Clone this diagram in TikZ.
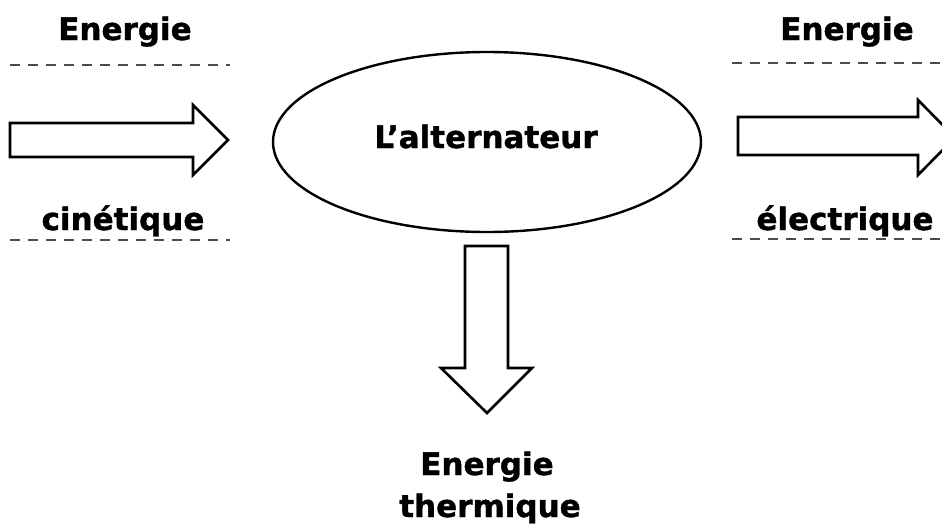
\documentclass[tikz,border=0pt]{standalone}
\usepackage{fontspec}
\setmainfont{DejaVu Sans}[BoldFeatures={FakeBold=1.2}]
\begin{document}
\begin{tikzpicture}[x=1pt,y=-1pt,
  lbl/.style={font=\bfseries\fontsize{31}{42}\selectfont, anchor=base, inner sep=0pt},
  blockarrow/.style={draw=black, line width=2.6pt, fill=white, line join=miter},
  sep/.style={draw=black!70, line width=1.6pt, dash pattern=on 10pt off 8pt},
  oval/.style={draw=black, line width=2.4pt}]
\useasboundingbox (0,0) rectangle (942,525);
% left
\node[lbl] (e1) at (125,40) {Energie};
\node[lbl] (c1) at (123,230) {cinétique};
\draw[sep] (10,65) -- (230,65);
\draw[sep] (10,240) -- (230,240);
\draw[blockarrow] (10,123) -- (193,123) -- (193,105) -- (228,140) -- (193,175) -- (193,157) -- (10,157) -- cycle;
% ellipse
\draw[oval] (487,142) ellipse [x radius=214, y radius=90];
\node[lbl] (alt) at (486,148) {L’alternateur};
% right
\node[lbl] (e2) at (847,40) {Energie};
\node[lbl] (c2) at (845,230) {électrique};
\draw[sep] (732,63) -- (942,63);
\draw[sep] (732,239) -- (942,239);
\draw[blockarrow] (738,117) -- (918,117) -- (918,100) -- (955,137.5) -- (918,175) -- (918,155) -- (738,155) -- cycle;
% down
\draw[blockarrow] (465,246) -- (508,246) -- (508,368) -- (532,368) -- (487,413) -- (441,368) -- (465,368) -- cycle;
\node[lbl] (e3) at (487,475) {Energie};
\node[lbl] (t3) at (490,517) {thermique};
\end{tikzpicture}
\end{document}
